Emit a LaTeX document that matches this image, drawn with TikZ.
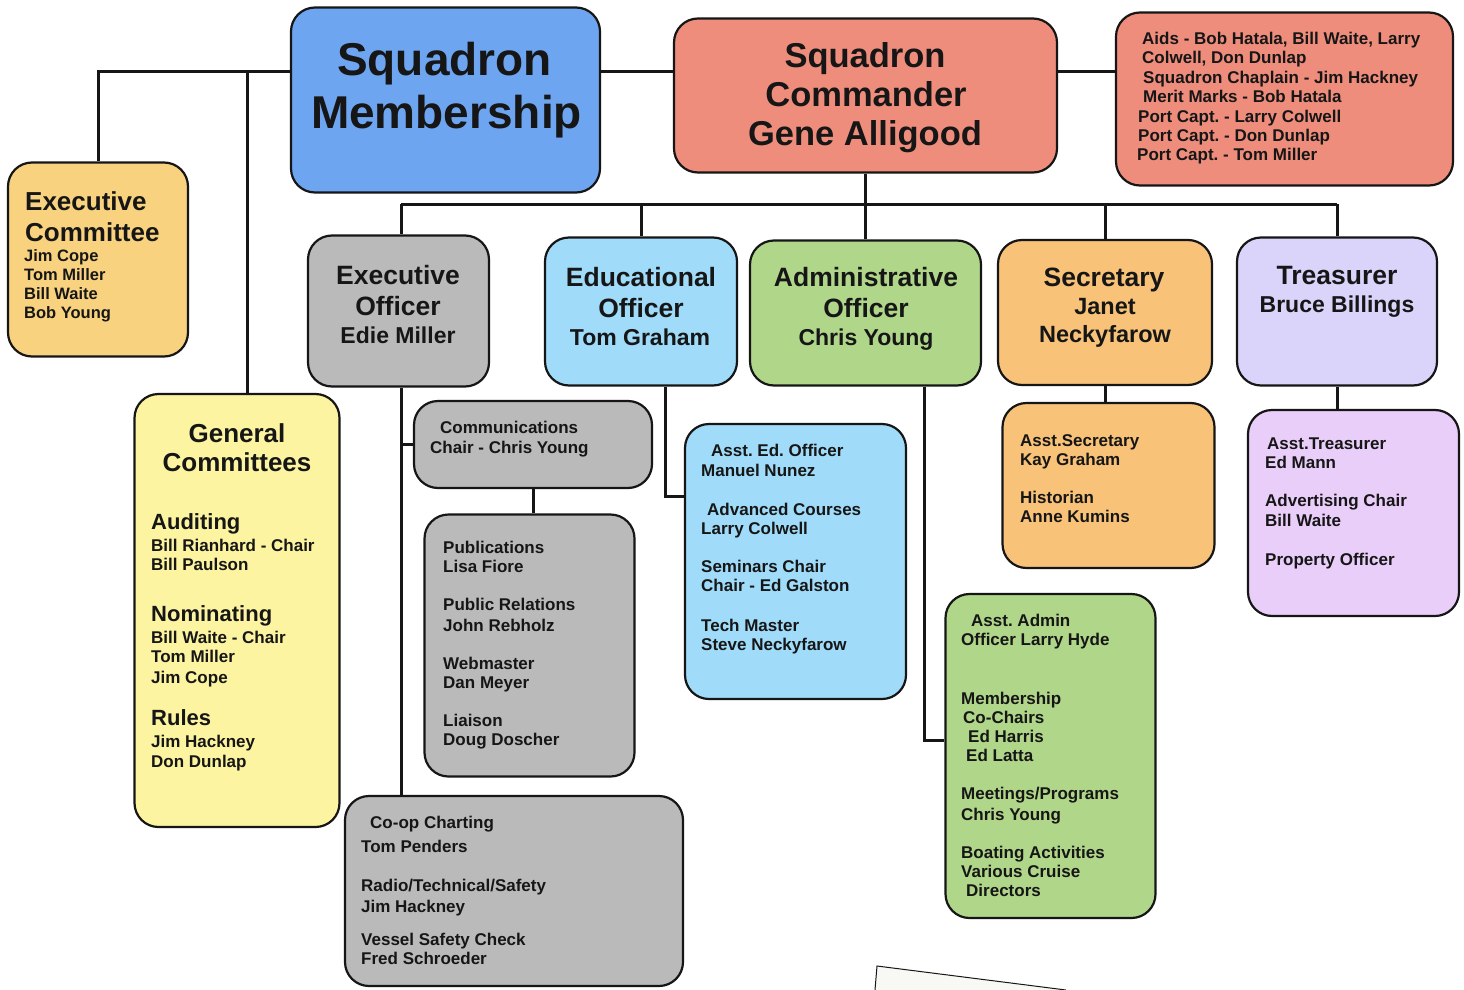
\documentclass[tikz,border=0pt]{standalone}
\usepackage{fontspec}
\setmainfont{Liberation Sans}
\frenchspacing
\definecolor{cBlue}{RGB}{110,165,240}
\definecolor{cSalmon}{RGB}{239,141,124}
\definecolor{cGold}{RGB}{248,210,126}
\definecolor{cYellow}{RGB}{252,244,160}
\definecolor{cGray}{RGB}{186,186,186}
\definecolor{cSky}{RGB}{160,220,250}
\definecolor{cGreen}{RGB}{176,214,138}
\definecolor{cOrange}{RGB}{248,194,120}
\definecolor{cLav}{RGB}{218,211,250}
\definecolor{cPink}{RGB}{234,206,250}
\definecolor{cInk}{RGB}{22,22,22}
\tikzset{
  box/.style={draw=cInk, line width=2.2pt, rounded corners=24pt, inner sep=0pt},
  link/.style={draw=cInk, line width=3pt},
  L/.style={inner sep=0pt, anchor=west, text depth=0pt, text height={0.72*#1pt}, text=cInk,
            font=\bfseries\frenchspacing\fontsize{#1pt}{#1pt}\selectfont},
  C/.style={L=#1, anchor=center},
}
\begin{document}
\begin{tikzpicture}[x=1pt,y=-1pt]
\useasboundingbox[fill=white] (0,0) rectangle (1464,990);
% paper corner at bottom
\path[fill={rgb,255:red,248;green,248;blue,244}] (877,966) -- (1066,990) -- (875,990) -- cycle;
\draw[line width=1pt, cInk] (875,990) -- (877,966) -- (1066,990);

% boxes
\node[box, fill=cBlue,   minimum width=309pt, minimum height=185pt] (sm)   at (445.5,100) {};
\node[box, fill=cSalmon, minimum width=383pt, minimum height=154pt] (sc)   at (865.5,95.5) {};
\node[box, fill=cSalmon, minimum width=337pt, minimum height=173pt] (aids) at (1284.5,99) {};
\node[box, fill=cGold,   minimum width=180pt, minimum height=194pt] (ec)   at (98,259.5) {};
\node[box, fill=cYellow, minimum width=205pt, minimum height=433pt] (gc)   at (237,610.5) {};
\node[box, fill=cGray,   minimum width=181pt, minimum height=151pt] (eo)   at (398.5,311) {};
\node[box, fill=cSky,    minimum width=192pt, minimum height=148pt] (edo)  at (641,311.5) {};
\node[box, fill=cGreen,  minimum width=231pt, minimum height=145pt] (ao)   at (865.5,313) {};
\node[box, fill=cOrange, minimum width=214pt, minimum height=145pt] (sec)  at (1105,312.5) {};
\node[box, fill=cLav,    minimum width=200pt, minimum height=148pt] (tr)   at (1337,311.5) {};
\node[box, fill=cGray,   minimum width=238pt, minimum height=87pt]  (comm) at (533,444.5) {};
\node[box, fill=cGray,   minimum width=210pt, minimum height=262pt] (pub)  at (529.5,645.5) {};
\node[box, fill=cGray,   minimum width=338pt, minimum height=190pt] (coop) at (514,891) {};
\node[box, fill=cSky,    minimum width=221pt, minimum height=275pt] (aed)  at (795.5,561.5) {};
\node[box, fill=cOrange, minimum width=212pt, minimum height=165pt] (asec) at (1108.5,485.5) {};
\node[box, fill=cPink,   minimum width=211pt, minimum height=206pt] (atr)  at (1353.5,513) {};
\node[box, fill=cGreen,  minimum width=210pt, minimum height=324pt] (aad)  at (1050.5,756) {};

% connectors
\coordinate (h) at (0,72);
\coordinate (v1) at (247,72);
\coordinate (bus) at (0,204);
\coordinate (e1) at (665,496);
\coordinate (a1) at (924,740);
\coordinate (x1) at (401,0);
\draw[link] (sm.west |- h) -| (ec.north);
\draw[link] (v1) -- (v1 |- gc.north);
\draw[link] (sm.east |- h) -- (sc.west |- h);
\draw[link] (sc.east |- h) -- (aids.west |- h);
\draw[link] (sc.south) -- (sc.south |- bus);
\draw[link] (x1 |- bus) -- (tr.north |- bus);
\draw[link] (x1 |- bus) -- (x1 |- eo.north);
\draw[link] (edo.north |- bus) -- (edo.north);
\draw[link] (ao.north |- bus) -- (ao.north);
\draw[link] (sec.north |- bus) -- (sec.north);
\draw[link] (tr.north |- bus) -- (tr.north);
\draw[link] (x1 |- eo.south) -- (x1 |- coop.north);
\draw[link] (x1 |- comm.west) -- (comm.west);
\draw[link] (comm.south) -- (comm.south |- pub.north);
\draw[link] (e1 |- edo.south) |- (aed.west |- e1);
\draw[link] (a1 |- ao.south) |- (aad.west |- a1);
\draw[link] (sec.south) -- (sec.south |- asec.north);
\draw[link] (tr.south) -- (tr.south |- atr.north);

% titles
\node[C=46] (sm1) at (444.5,58.5) {Squadron};
\node[C=46] (sm2) at (446.5,111.5) {Membership};
\node[C=34.5] (sc1) at (865,55) {Squadron};
\node[C=34.5] (sc2) at (866,94) {Commander};
\node[C=34.5] (sc3) at (865,133) {Gene Alligood};

\node[L=26] (ec1) at (25,201) {Executive};
\node[L=26] (ec2) at (25,232) {Committee};
\node[L=16.5] (ec3) at (24,256) {Jim Cope};
\node[L=16.5] (ec4) at (24,275) {Tom Miller};
\node[L=16.5] (ec5) at (24,294) {Bill Waite};
\node[L=16.5] (ec6) at (24,313) {Bob Young};

\node[C=26.5] (eo1) at (398,275) {Executive};
\node[C=26.5] (eo2) at (398,306) {Officer};
\node[C=23] (eo3) at (398,335) {Edie Miller};
\node[C=26.5] (ed1) at (641,277) {Educational};
\node[C=26.5] (ed2) at (641,308) {Officer};
\node[C=23] (ed3) at (640,337) {Tom Graham};
\node[C=26.5] (ao1) at (866,277) {Administrative};
\node[C=26.5] (ao2) at (866,308) {Officer};
\node[C=23] (ao3) at (866,337) {Chris Young};
\node[C=26.5] (se1) at (1104,277) {Secretary};
\node[C=23.5] (se2) at (1105,306) {Janet};
\node[C=23.5] (se3) at (1105,334) {Neckyfarow};
\node[C=26.5] (tr1) at (1337,275) {Treasurer};
\node[C=23] (tr2) at (1337,304) {Bruce Billings};

% aids
\node[L=17] (ai1) at (1142,38) {Aids - Bob Hatala, Bill Waite, Larry};
\node[L=17] (ai2) at (1142,57) {Colwell, Don Dunlap};
\node[L=17] (ai3) at (1143,77) {Squadron Chaplain - Jim Hackney};
\node[L=17] (ai4) at (1143,96) {Merit Marks - Bob Hatala};
\node[L=17] (ai5) at (1138,116) {Port Capt. - Larry Colwell};
\node[L=17] (ai6) at (1138,135) {Port Capt. - Don Dunlap};
\node[L=17] (ai7) at (1137,154) {Port Capt. - Tom Miller};

% general committees
\node[C=26] (gc1) at (237,433) {General};
\node[C=26] (gc2) at (237,462) {Committees};
\node[L=22] (gc3) at (151,522) {Auditing};
\node[L=17] (gc4) at (151,545) {Bill Rianhard - Chair};
\node[L=17] (gc5) at (151,564) {Bill Paulson};
\node[L=22] (gc6) at (151,614) {Nominating};
\node[L=17] (gc7) at (151,637) {Bill Waite - Chair};
\node[L=17] (gc8) at (151,656) {Tom Miller};
\node[L=17] (gc9) at (151,677) {Jim Cope};
\node[L=22] (gc10) at (151,718) {Rules};
\node[L=17] (gc11) at (151,741) {Jim Hackney};
\node[L=17] (gc12) at (151,761) {Don Dunlap};

% communications
\node[L=17] (cm1) at (440,427) {Communications};
\node[L=17] (cm2) at (430,447) {Chair - Chris Young};

% publications
\node[L=17] (pb1) at (443,547) {Publications};
\node[L=17] (pb2) at (443,566) {Lisa Fiore};
\node[L=17] (pb3) at (443,604) {Public Relations};
\node[L=17] (pb4) at (443,625) {John Rebholz};
\node[L=17] (pb5) at (443,663) {Webmaster};
\node[L=17] (pb6) at (443,682) {Dan Meyer};
\node[L=17] (pb7) at (443,720) {Liaison};
\node[L=17] (pb8) at (443,739) {Doug Doscher};

% co-op
\node[L=17] (co1) at (370,822) {Co-op Charting};
\node[L=17] (co2) at (361,846) {Tom Penders};
\node[L=17] (co3) at (361,885) {Radio/Technical/Safety};
\node[L=17] (co4) at (361,906) {Jim Hackney};
\node[L=17] (co5) at (361,939) {Vessel Safety Check};
\node[L=17] (co6) at (361,958) {Fred Schroeder};

% asst ed
\node[L=17] (ae1) at (711,450) {Asst. Ed. Officer};
\node[L=17] (ae2) at (701,470) {Manuel Nunez};
\node[L=17] (ae3) at (707,509) {Advanced Courses};
\node[L=17] (ae4) at (701,528) {Larry Colwell};
\node[L=17] (ae5) at (701,566) {Seminars Chair};
\node[L=17] (ae6) at (701,585) {Chair - Ed Galston};
\node[L=17] (ae7) at (701,625) {Tech Master};
\node[L=17] (ae8) at (701,644) {Steve Neckyfarow};

% asst secretary
\node[L=17] (as1) at (1020,440) {Asst.Secretary};
\node[L=17] (as2) at (1020,459) {Kay Graham};
\node[L=17] (as3) at (1020,497) {Historian};
\node[L=17] (as4) at (1020,516) {Anne Kumins};

% asst treasurer
\node[L=17] (at1) at (1267,443) {Asst.Treasurer};
\node[L=17] (at2) at (1265,462) {Ed Mann};
\node[L=17] (at3) at (1265,500) {Advertising Chair};
\node[L=17] (at4) at (1265,520) {Bill Waite};
\node[L=17] (at5) at (1265,559) {Property Officer};

% asst admin
\node[L=17] (ad1) at (971,620) {Asst. Admin};
\node[L=17] (ad2) at (961,639) {Officer Larry Hyde};
\node[L=17] (ad3) at (961,698) {Membership};
\node[L=17] (ad4) at (963,717) {Co-Chairs};
\node[L=17] (ad5) at (968,736) {Ed Harris};
\node[L=17] (ad6) at (966,755) {Ed Latta};
\node[L=17] (ad7) at (961,793) {Meetings/Programs};
\node[L=17] (ad8) at (961,814) {Chris Young};
\node[L=17] (ad9) at (961,852) {Boating Activities};
\node[L=17] (ad10) at (961,871) {Various Cruise};
\node[L=17] (ad11) at (966,890) {Directors};
\end{tikzpicture}
\end{document}
